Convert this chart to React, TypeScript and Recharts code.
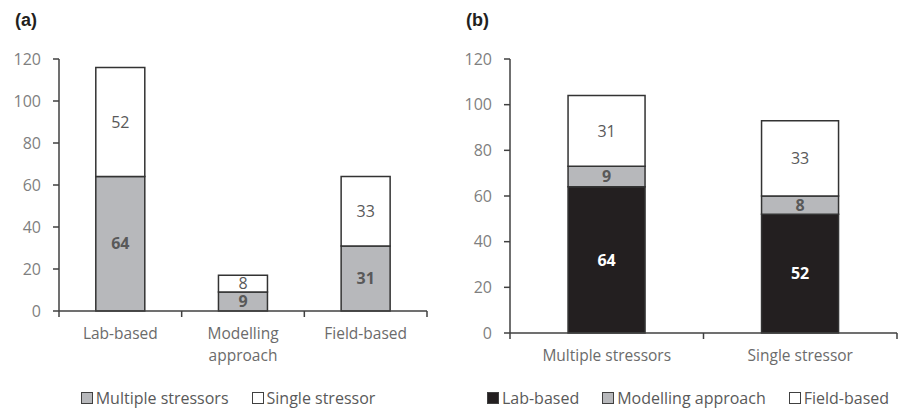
import React from 'react';
import { BarChart, Bar, XAxis, YAxis, LabelList, Text } from 'recharts';

const FONT = "'Open Sans', sans-serif";
const AXIS = '#404040';
const GREY = '#b7b8bb';
const BLACK = '#231f20';
const TXT = '#595959';

const yTicks = [0, 20, 40, 60, 80, 100, 120];

// panel (a)
const categoriesA = ['Lab-based', 'Modelling approach', 'Field-based'];
const multipleA = [64, 9, 31];
const singleA = [52, 8, 33];

// panel (b)
const categoriesB = ['Multiple stressors', 'Single stressor'];
const labB = [64, 52];
const modellingB = [9, 8];
const fieldB = [31, 33];

const dataA = categoriesA.map((name, i) => ({ name, multiple: multipleA[i], single: singleA[i] }));
const dataB = categoriesB.map((name, i) => ({ name, lab: labB[i], modelling: modellingB[i], field: fieldB[i] }));

const legendA = [
  { label: 'Multiple stressors', fill: GREY },
  { label: 'Single stressor', fill: '#fff' },
];
const legendB = [
  { label: 'Lab-based', fill: BLACK },
  { label: 'Modelling approach', fill: GREY },
  { label: 'Field-based', fill: '#fff' },
];

function makeTick(bw: number, count: number) {
  return (props: any) => {
    const { x, y, payload, index } = props;
    return (
      <g>
        <line x1={x - bw / 2} x2={x - bw / 2} y1={y} y2={y + 6} stroke={AXIS} strokeWidth={1.5} />
        {index === count - 1 && (
          <line x1={x + bw / 2} x2={x + bw / 2} y1={y} y2={y + 6} stroke={AXIS} strokeWidth={1.5} />
        )}
        <Text
          x={x}
          y={y + 17}
          width={bw * 0.8}
          textAnchor="middle"
          verticalAnchor="start"
          lineHeight={22}
          fill="#6b6b6b"
          fontSize={15.5}
          fontFamily={FONT}
        >
          {payload.value}
        </Text>
      </g>
    );
  };
}

function Legend({ items, center }: { items: { label: string; fill: string }[]; center: number }) {
  return (
    <div
      style={{
        position: 'absolute',
        top: 387,
        left: center - 300,
        width: 600,
        display: 'flex',
        justifyContent: 'center',
        gap: 23,
        fontFamily: FONT,
        fontSize: 16,
        color: TXT,
        lineHeight: '22px',
      }}
    >
      {items.map((it) => (
        <div key={it.label} style={{ display: 'flex', alignItems: 'center', gap: 3 }}>
          <span style={{ width: 10, height: 10, background: it.fill, border: `1.5px solid ${AXIS}`, display: 'inline-block' }} />
          <span>{it.label}</span>
        </div>
      ))}
    </div>
  );
}

const yAxisProps = {
  domain: [0, 120] as [number, number],
  ticks: yTicks,
  interval: 0 as const,
  width: 50,
  axisLine: { stroke: AXIS, strokeWidth: 1.5 },
  tickLine: { stroke: AXIS, strokeWidth: 1.5 },
  tickSize: 6,
  tickMargin: 12,
  tick: { fill: '#7f7f7f', fontSize: 16, fontFamily: FONT },
};

const boldLabel = { fill: TXT, fontSize: 16, fontWeight: 700, fontFamily: FONT };
const plainLabel = { fill: TXT, fontSize: 16, fontFamily: FONT };

export default function App() {
  const bwA = (427 - 59) / categoriesA.length;
  const bwB = (897 - 510) / categoriesB.length;
  return (
    <div style={{ position: 'absolute', left: 0, top: 0, width: 899, height: 408, background: '#fff' }}>
      <div style={{ position: 'absolute', left: 15, top: 10, fontFamily: "'Liberation Sans', Arial, sans-serif", fontWeight: 700, fontSize: 18, color: BLACK }}>(a)</div>
      <div style={{ position: 'absolute', left: 466, top: 10, fontFamily: "'Liberation Sans', Arial, sans-serif", fontWeight: 700, fontSize: 18, color: BLACK }}>(b)</div>

      <div style={{ position: 'absolute', left: 0, top: 0 }}>
        <BarChart width={450} height={408} data={dataA} margin={{ top: 59, right: 23, left: 9, bottom: 47 }} barCategoryGap="30%">
          <XAxis
            dataKey="name"
            axisLine={{ stroke: AXIS, strokeWidth: 1.5 }}
            tickLine={false}
            tickSize={0}
            tickMargin={0}
            height={50}
            interval={0}
            tick={makeTick(bwA, categoriesA.length)}
          />
          <YAxis {...yAxisProps} />
          <Bar dataKey="multiple" stackId="a" fill={GREY} stroke="#333" strokeWidth={1.5} isAnimationActive={false}>
            <LabelList dataKey="multiple" position="center" style={boldLabel} />
          </Bar>
          <Bar dataKey="single" stackId="a" fill="#fff" stroke="#333" strokeWidth={1.5} isAnimationActive={false}>
            <LabelList dataKey="single" position="center" style={plainLabel} />
          </Bar>
        </BarChart>
      </div>

      <div style={{ position: 'absolute', left: 450, top: 0 }}>
        <BarChart width={449} height={408} data={dataB} margin={{ top: 59, right: 2, left: 10, bottom: 25 }} barCategoryGap="30%">
          <XAxis
            dataKey="name"
            axisLine={{ stroke: AXIS, strokeWidth: 1.5 }}
            tickLine={false}
            tickSize={0}
            tickMargin={0}
            height={50}
            interval={0}
            tick={makeTick(bwB, categoriesB.length)}
          />
          <YAxis {...yAxisProps} />
          <Bar dataKey="lab" stackId="b" fill={BLACK} stroke="#333" strokeWidth={1.5} isAnimationActive={false}>
            <LabelList dataKey="lab" position="center" style={{ ...boldLabel, fill: '#fff' }} />
          </Bar>
          <Bar dataKey="modelling" stackId="b" fill={GREY} stroke="#333" strokeWidth={1.5} isAnimationActive={false}>
            <LabelList dataKey="modelling" position="center" style={boldLabel} />
          </Bar>
          <Bar dataKey="field" stackId="b" fill="#fff" stroke="#333" strokeWidth={1.5} isAnimationActive={false}>
            <LabelList dataKey="field" position="center" style={plainLabel} />
          </Bar>
        </BarChart>
      </div>

      <Legend items={legendA} center={228} />
      <Legend items={legendB} center={688} />
    </div>
  );
}
